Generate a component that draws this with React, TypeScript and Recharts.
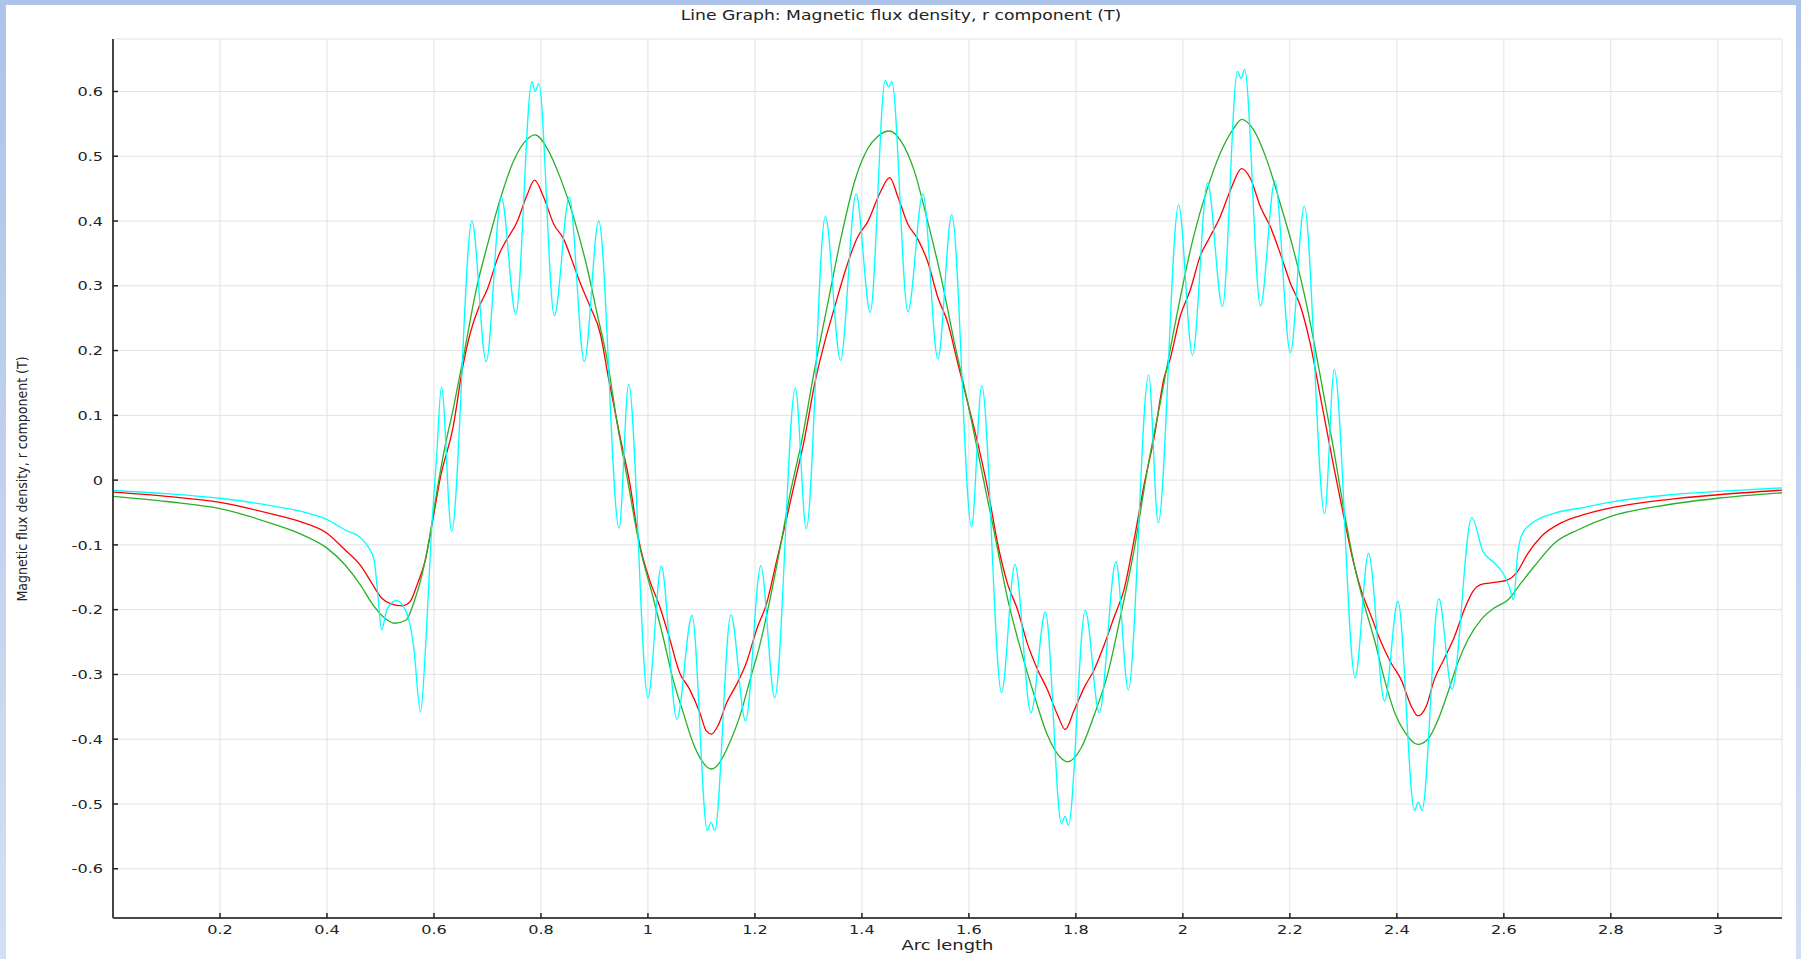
import { LineChart, Line, XAxis, YAxis, CartesianGrid } from "recharts";

// values, [arc length, B_r]
const xTicks = [0.2, 0.4, 0.6, 0.8, 1, 1.2, 1.4, 1.6, 1.8, 2, 2.2, 2.4, 2.6, 2.8, 3];
const yTicks = [-0.6, -0.5, -0.4, -0.3, -0.2, -0.1, 0, 0.1, 0.2, 0.3, 0.4, 0.5, 0.6];

const redSeries: [number, number][] = [
  [0, -0.0186], [0.1, -0.025], [0.2, -0.0345], [0.3, -0.053], [0.35, -0.064], [0.4, -0.082],
  [0.434, -0.108], [0.4643, -0.1335], [0.4838, -0.159], [0.502, -0.182], [0.5196, -0.191],
  [0.541, -0.194], [0.555, -0.188], [0.5696, -0.159], [0.584, -0.123], [0.598, -0.061],
  [0.611, 0.0], [0.636, 0.083], [0.655, 0.18], [0.6675, 0.226], [0.683, 0.265], [0.699, 0.293],
  [0.722, 0.349], [0.733, 0.367], [0.755, 0.398], [0.774, 0.44], [0.788, 0.463], [0.805, 0.437],
  [0.824, 0.395], [0.8425, 0.372], [0.858, 0.339], [0.874, 0.303], [0.8925, 0.267], [0.911, 0.226],
  [0.927, 0.154], [0.949, 0.062], [0.965, 0.0], [0.984, -0.097], [1.003, -0.154], [1.022, -0.195],
  [1.041, -0.246], [1.059, -0.297], [1.078, -0.323], [1.097, -0.359], [1.109, -0.387], [1.119, -0.392],
  [1.131, -0.379], [1.147, -0.344], [1.166, -0.315], [1.184, -0.282], [1.203, -0.231], [1.222, -0.19],
  [1.241, -0.123], [1.259, -0.06], [1.274, -0.005], [1.293, 0.065], [1.312, 0.15], [1.33, 0.212],
  [1.349, 0.267], [1.368, 0.321], [1.3925, 0.376], [1.411, 0.399], [1.433, 0.442], [1.452, 0.467],
  [1.467, 0.438], [1.486, 0.395], [1.5045, 0.372], [1.523, 0.337], [1.542, 0.282], [1.5605, 0.243],
  [1.579, 0.181], [1.598, 0.119], [1.6165, 0.057], [1.635, -0.013], [1.654, -0.099], [1.6726, -0.161],
  [1.691, -0.2], [1.71, -0.254], [1.7287, -0.293], [1.747, -0.324], [1.766, -0.363], [1.78, -0.385],
  [1.797, -0.355], [1.8157, -0.32], [1.834, -0.293], [1.853, -0.254], [1.8717, -0.211], [1.89, -0.169],
  [1.909, -0.091], [1.928, -0.005], [1.946, 0.065], [1.965, 0.158], [1.976, 0.186], [1.995, 0.253],
  [2.014, 0.294], [2.032, 0.345], [2.051, 0.376], [2.07, 0.407], [2.089, 0.448], [2.11, 0.481],
  [2.126, 0.466], [2.145, 0.422], [2.1635, 0.391], [2.182, 0.35], [2.201, 0.304], [2.22, 0.268],
  [2.238, 0.211], [2.257, 0.129], [2.282, 0.021], [2.302, -0.061], [2.315, -0.113], [2.333, -0.169],
  [2.352, -0.21], [2.371, -0.251], [2.389, -0.282], [2.408, -0.308], [2.427, -0.349], [2.439, -0.364],
  [2.455, -0.349], [2.47, -0.308], [2.489, -0.275], [2.508, -0.241], [2.526, -0.2], [2.542, -0.172],
  [2.558, -0.161], [2.5826, -0.158], [2.6075, -0.154], [2.623, -0.144], [2.645, -0.113], [2.67, -0.087],
  [2.707, -0.066], [2.751, -0.053], [2.8, -0.043], [2.906, -0.03], [3.0, -0.0226], [3.12, -0.0154],
];

const greenSeries: [number, number][] = [
  [0, -0.025], [0.1, -0.033], [0.2, -0.044], [0.3, -0.068], [0.35, -0.083], [0.4, -0.105],
  [0.434, -0.131], [0.4643, -0.164], [0.4838, -0.19], [0.505, -0.211], [0.5267, -0.221], [0.548, -0.216],
  [0.562, -0.19], [0.5768, -0.149], [0.591, -0.092], [0.605, -0.02], [0.619, 0.045], [0.636, 0.11],
  [0.655, 0.19], [0.68, 0.298], [0.699, 0.36], [0.724, 0.434], [0.749, 0.493], [0.774, 0.526],
  [0.789, 0.533], [0.811, 0.513], [0.836, 0.467], [0.861, 0.406], [0.886, 0.329], [0.905, 0.257],
  [0.924, 0.185], [0.943, 0.085], [0.962, 0.0], [0.984, -0.1], [1.009, -0.179], [1.028, -0.241],
  [1.047, -0.308], [1.066, -0.359], [1.084, -0.405], [1.103, -0.436], [1.119, -0.446], [1.134, -0.436],
  [1.153, -0.405], [1.172, -0.364], [1.191, -0.308], [1.209, -0.255], [1.228, -0.185], [1.247, -0.105],
  [1.266, -0.02], [1.2867, 0.057], [1.312, 0.173], [1.3365, 0.274], [1.3614, 0.376], [1.3863, 0.461],
  [1.411, 0.512], [1.43, 0.531], [1.452, 0.539], [1.4734, 0.523], [1.498, 0.477], [1.523, 0.399],
  [1.548, 0.313], [1.573, 0.212], [1.598, 0.119], [1.623, 0.018], [1.648, -0.083], [1.6726, -0.184],
  [1.697, -0.262], [1.722, -0.332], [1.747, -0.394], [1.772, -0.429], [1.7846, -0.435], [1.8095, -0.414],
  [1.834, -0.363], [1.859, -0.301], [1.884, -0.208], [1.909, -0.107], [1.934, 0.018], [1.959, 0.125],
  [1.984, 0.235], [2.02, 0.376], [2.045, 0.448], [2.07, 0.505], [2.095, 0.543], [2.11, 0.557],
  [2.132, 0.541], [2.157, 0.494], [2.182, 0.427], [2.207, 0.355], [2.232, 0.268], [2.257, 0.16],
  [2.282, 0.047], [2.302, -0.051], [2.321, -0.133], [2.34, -0.195], [2.358, -0.246], [2.377, -0.308],
  [2.396, -0.359], [2.414, -0.388], [2.439, -0.408], [2.458, -0.4], [2.477, -0.37], [2.495, -0.329],
  [2.514, -0.282], [2.533, -0.246], [2.558, -0.215], [2.5826, -0.197], [2.6075, -0.185], [2.632, -0.159],
  [2.657, -0.133], [2.695, -0.097], [2.738, -0.077], [2.8, -0.056], [2.906, -0.038], [3.0, -0.028],
  [3.12, -0.0195],
];

const cyanSeries: [number, number][] = [
  [0, -0.016], [0.1, -0.021], [0.2, -0.028], [0.3, -0.04], [0.35, -0.048], [0.4, -0.061],
  [0.434, -0.077], [0.4643, -0.09], [0.477, -0.103], [0.488, -0.123], [0.495, -0.175], [0.502, -0.231],
  [0.512, -0.2], [0.53, -0.186], [0.548, -0.203], [0.562, -0.257], [0.575, -0.358], [0.585, -0.247],
  [0.5945, -0.092], [0.605, 0.037], [0.614, 0.144], [0.633, -0.079], [0.671, 0.4], [0.6975, 0.183],
  [0.726, 0.437], [0.753, 0.256], [0.783, 0.615], [0.789, 0.6], [0.796, 0.612], [0.825, 0.254],
  [0.853, 0.437], [0.881, 0.183], [0.908, 0.4], [0.946, -0.074], [0.964, 0.148], [1.0, -0.336],
  [1.025, -0.133], [1.054, -0.369], [1.0825, -0.209], [1.111, -0.541], [1.118, -0.528], [1.125, -0.541],
  [1.155, -0.208], [1.1825, -0.372], [1.211, -0.132], [1.237, -0.336], [1.2756, 0.142], [1.296, -0.075],
  [1.3316, 0.407], [1.36, 0.185], [1.389, 0.442], [1.4156, 0.259], [1.4436, 0.617], [1.45, 0.607],
  [1.456, 0.615], [1.486, 0.26], [1.514, 0.442], [1.542, 0.187], [1.568, 0.41], [1.605, -0.072],
  [1.624, 0.146], [1.661, -0.328], [1.686, -0.13], [1.716, -0.359], [1.743, -0.204], [1.773, -0.53],
  [1.78, -0.519], [1.786, -0.533], [1.8175, -0.201], [1.8437, -0.359], [1.875, -0.126], [1.898, -0.324],
  [1.936, 0.162], [1.954, -0.066], [1.992, 0.425], [2.018, 0.193], [2.046, 0.459], [2.074, 0.268],
  [2.102, 0.631], [2.109, 0.62], [2.1155, 0.634], [2.145, 0.269], [2.172, 0.462], [2.201, 0.197],
  [2.227, 0.423], [2.265, -0.052], [2.283, 0.171], [2.322, -0.305], [2.347, -0.113], [2.377, -0.341],
  [2.402, -0.187], [2.433, -0.51], [2.44, -0.497], [2.447, -0.51], [2.4785, -0.183], [2.503, -0.323],
  [2.54, -0.058], [2.561, -0.11], [2.5826, -0.128], [2.598, -0.143], [2.61, -0.164], [2.618, -0.185],
  [2.626, -0.113], [2.635, -0.082], [2.657, -0.064], [2.695, -0.051], [2.751, -0.042], [2.8, -0.034],
  [2.906, -0.023], [3.0, -0.0175], [3.12, -0.012],
];

const toPoints = (s: [number, number][]) => s.map(([x, y]) => ({ x, y }));
const fmt = (v: number) => String(Math.round(v * 10) / 10);

const font = "'DejaVu Sans', Verdana, sans-serif";
// the reference's text is a bit wider than DejaVu, stretch it horizontally
const SX = 1.24;

const XTick = (props: any) => {
  const { x, y, payload } = props;
  return (
    <g transform={`translate(${x},${y}) scale(${SX},1)`}>
      <text x={0} y={0} dy="0.71em" textAnchor="middle" fontSize={13} fill="#222" fontFamily={font}>
        {fmt(payload.value)}
      </text>
    </g>
  );
};

const YTick = (props: any) => {
  const { x, y, payload } = props;
  return (
    <g transform={`translate(${x},${y}) scale(${SX},1)`}>
      <text x={0} y={0} dy="0.355em" textAnchor="end" fontSize={13} fill="#222" fontFamily={font}>
        {fmt(payload.value)}
      </text>
    </g>
  );
};

export default function App() {
  return (
    <div
      style={{
        position: "absolute",
        left: 0,
        top: 0,
        width: 1801,
        height: 959,
        overflow: "hidden",
        background: "linear-gradient(#adc3ea, #d4dff3)",
      }}
    >
      <div style={{ position: "absolute", left: 6, top: 5, width: 1790, height: 954, background: "#fff" }} />

      <div
        style={{
          position: "absolute",
          left: 6,
          top: 7,
          width: 1790,
          textAlign: "center",
          fontFamily: font,
          fontSize: 14,
          lineHeight: "17px",
          color: "#222",
          transform: "scaleX(1.23)",
        }}
      >
        Line Graph: Magnetic flux density, r component (T)
      </div>

      <div style={{ position: "absolute", left: 0, top: 0 }}>
        <LineChart width={1801} height={959} margin={{ top: 39, right: 19, bottom: 11, left: 0 }}>
          <CartesianGrid stroke="#e2e2e2" strokeWidth={1} />
          <XAxis
            type="number"
            dataKey="x"
            domain={[0, 3.12]}
            allowDataOverflow
            ticks={xTicks}
            interval={0}
            height={30}
            tickSize={-5}
            tickMargin={12}
            tick={XTick}
            tickLine={{ stroke: "#222", strokeWidth: 1.5 }}
            axisLine={{ stroke: "#111", strokeWidth: 1.5 }}
          />
          <XAxis
            xAxisId="top"
            orientation="top"
            type="number"
            domain={[0, 3.12]}
            allowDataOverflow
            ticks={xTicks}
            interval={0}
            height={0}
            tick={false}
            tickSize={-5}
            tickLine={{ stroke: "#222", strokeWidth: 1.5 }}
            axisLine={{ stroke: "#111", strokeWidth: 1.5 }}
          />
          <YAxis
            type="number"
            domain={[-0.676, 0.681]}
            allowDataOverflow
            ticks={yTicks}
            interval={0}
            width={113}
            tickSize={-5}
            tickMargin={15}
            tick={YTick}
            tickLine={{ stroke: "#222", strokeWidth: 1.5 }}
            axisLine={{ stroke: "#444", strokeWidth: 2 }}
          />
          <YAxis
            yAxisId="right"
            orientation="right"
            type="number"
            domain={[-0.676, 0.681]}
            allowDataOverflow
            ticks={yTicks}
            interval={0}
            width={0}
            tick={false}
            tickSize={-5}
            tickLine={{ stroke: "#222", strokeWidth: 1.5 }}
            axisLine={{ stroke: "#555", strokeWidth: 2 }}
          />
          <Line
            data={toPoints(redSeries)}
            dataKey="y"
            type="monotone"
            stroke="#ff0000"
            strokeWidth={1.3}
            dot={false}
            activeDot={false}
            isAnimationActive={false}
          />
          <Line
            data={toPoints(greenSeries)}
            dataKey="y"
            type="monotone"
            stroke="#28b028"
            strokeWidth={1.3}
            dot={false}
            activeDot={false}
            isAnimationActive={false}
          />
          <Line
            data={toPoints(cyanSeries)}
            dataKey="y"
            type="monotone"
            stroke="#00ffff"
            strokeWidth={1.3}
            dot={false}
            activeDot={false}
            isAnimationActive={false}
          />
        </LineChart>
      </div>

      <div
        style={{
          position: "absolute",
          left: 113,
          top: 937,
          width: 1669,
          textAlign: "center",
          fontFamily: font,
          fontSize: 14,
          lineHeight: "17px",
          color: "#222",
          transform: "scaleX(1.28)",
        }}
      >
        Arc length
      </div>

      <div
        style={{
          position: "absolute",
          left: 21.5,
          top: 479,
          transform: "translate(-50%, -50%) rotate(-90deg)",
          whiteSpace: "nowrap",
          fontFamily: "'DejaVu Sans Condensed', 'Liberation Sans Narrow', 'Liberation Sans', sans-serif",
          fontSize: 14,
          lineHeight: "16px",
          color: "#222",
        }}
      >
        Magnetic flux density, r component (T)
      </div>
    </div>
  );
}
